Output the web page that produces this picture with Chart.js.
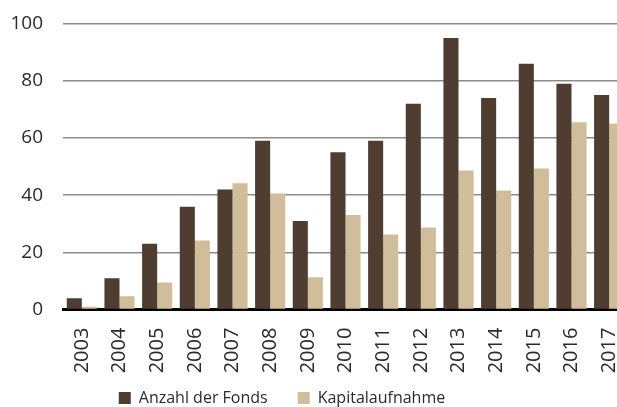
<!DOCTYPE html>
<html>
<head>
<meta charset="utf-8">
<script src="https://cdn.jsdelivr.net/npm/chart.js@4.4.0/dist/chart.umd.min.js"></script>
<style>
  html, body { margin: 0; padding: 0; background: #fff; overflow: hidden; }
  #wrap { width: 632px; height: 407px; }
</style>
</head>
<body>
<div id="wrap"><canvas id="chart"></canvas></div>
<script>
const years = ['2003', '2004', '2005', '2006', '2007', '2008', '2009', '2010',
               '2011', '2012', '2013', '2014', '2015', '2016', '2017'];
const fonds = [4, 11, 23, 36, 42, 59, 31, 55, 59, 72, 95, 74, 86, 79, 75];
const kapital = [1, 4.7, 9.5, 24.2, 44.2, 40.6, 11.3, 33.1, 26.3, 28.7, 48.6, 41.6, 49.3, 65.5, 65.1];
const yMax = 100;
const yStep = 20;

const PAD_BOTTOM = 2;
const AREA_BOTTOM = 309.6;

// legend sits lower and further left than chart.js puts it,
// and the x labels need room below the axis (labels are clipped to the scale box)
const layoutFix = {
  id: 'layoutFix',
  afterLayout(chart) {
    const l = chart.legend;
    l.top += 11;
    l.bottom += 11;
    l.left -= 32;
    l.right -= 32;
    const x = chart.scales.x;
    x.bottom = x.top + 75;
  }
};

const ctx = document.getElementById('chart');
const chart = new Chart(ctx, {
  type: 'bar',
  data: {
    labels: years,
    datasets: [
      {
        label: 'Anzahl der Fonds',
        data: fonds,
        backgroundColor: '#4e3d30'
      },
      {
        label: 'Kapitalaufnahme',
        data: kapital,
        backgroundColor: '#d0bd99'
      }
    ]
  },
  options: {
    responsive: true,
    maintainAspectRatio: false,
    animation: false,
    categoryPercentage: 0.8,
    barPercentage: 1.0,
    layout: { autoPadding: false, padding: { top: 23.6, right: 4, left: 0, bottom: PAD_BOTTOM } },
    plugins: {
      tooltip: { enabled: false },
      legend: {
        position: 'bottom',
        labels: {
          boxWidth: 12,
          boxHeight: 12,
          padding: 30,
          color: '#2a2a2a',
          font: { family: 'Open Sans', size: 16 }
        }
      }
    },
    scales: {
      x: {
        grid: { display: false },
        border: { color: '#000', width: 3 },
        ticks: {
          color: '#2a2a2a',
          maxRotation: 90,
          minRotation: 90,
          padding: 10,
          font: { family: 'Open Sans', size: 20 }
        },
        afterFit(scale) {
          scale.height = 407 - PAD_BOTTOM - AREA_BOTTOM - scale.chart.legend.height;
          scale.paddingLeft = 0;
          scale.paddingRight = 0;
        }
      },
      y: {
        min: 0,
        max: yMax,
        border: { display: false },
        grid: { color: '#8c8c8c', lineWidth: 1.5, drawTicks: false },
        ticks: {
          stepSize: yStep,
          padding: 20,
          color: '#2a2a2a',
          font: { family: 'Open Sans', size: 19 }
        },
        afterFit(scale) {
          scale.width = 63;
          scale.paddingTop = 0;
          scale.paddingBottom = 0;
        }
      }
    }
  },
  plugins: [layoutFix]
});
</script>
</body>
</html>
